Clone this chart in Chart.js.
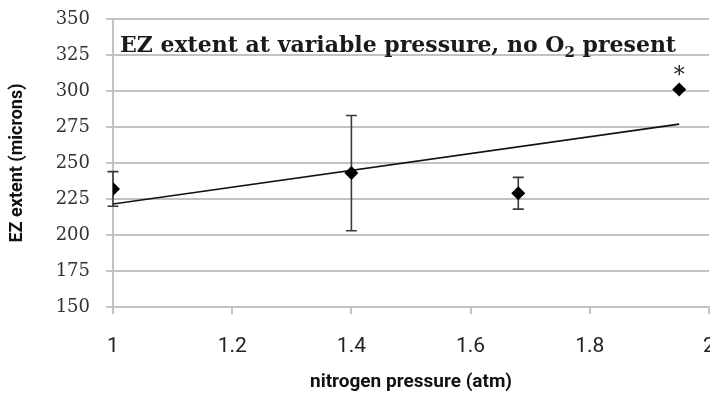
<!DOCTYPE html>
<html>
<head>
<meta charset="utf-8">
<script src="https://cdn.jsdelivr.net/npm/chart.js@4/dist/chart.umd.min.js"></script>
<style>
html,body{margin:0;padding:0;background:#fff;}
#wrap{width:710px;height:394px;position:relative;}
</style>
</head>
<body>
<div id="wrap"><canvas id="c" width="710" height="394"></canvas></div>
<script>
// ---- data ----
const pressures = [1, 1.4, 1.68, 1.95];
const ezExtent = [232, 243, 229, 301];
const ezError = [12, 40, 11, 0];
const trendX = [1, 1.95];
const trendY = [221.5, 277];
const annotatedIndex = 3;
const chartTitleMain = 'EZ extent at variable pressure, no O';
const chartTitleSub = '2';
const chartTitleEnd = ' present';
const xTitle = 'nitrogen pressure (atm)';
const yTitle = 'EZ extent (microns)';

const narrow = "'Liberation Sans Narrow','Arial Narrow','Roboto',sans-serif";
const serif = "'DejaVu Serif','Liberation Serif',serif";

const extras = {
  id: 'extras',
  beforeDatasetsDraw(chart) {
    const {ctx, scales: {x, y}} = chart;
    ctx.save();
    ctx.strokeStyle = '#3a3a3a';
    ctx.lineWidth = 1.6;
    pressures.forEach((p, i) => {
      if (!ezError[i]) return;
      const px = x.getPixelForValue(p);
      const top = y.getPixelForValue(ezExtent[i] + ezError[i]);
      const bot = y.getPixelForValue(ezExtent[i] - ezError[i]);
      ctx.beginPath();
      ctx.moveTo(px, top); ctx.lineTo(px, bot);
      ctx.moveTo(px - 5.5, top); ctx.lineTo(px + 5.5, top);
      ctx.moveTo(px - 5.5, bot); ctx.lineTo(px + 5.5, bot);
      ctx.stroke();
    });
    ctx.restore();
  },
  afterDatasetsDraw(chart) {
    const {ctx, scales: {x, y}} = chart;
    ctx.save();
    // asterisk
    ctx.fillStyle = '#222';
    ctx.font = "22px " + serif;
    ctx.textAlign = 'center';
    ctx.textBaseline = 'alphabetic';
    const ax = x.getPixelForValue(pressures[annotatedIndex]);
    const ay = y.getPixelForValue(ezExtent[annotatedIndex]);
    ctx.fillText('*', ax, ay - 8);
    // title
    const left = chart.chartArea.left + 7;
    const base = 52;
    const size = 22;
    ctx.textAlign = 'left';
    ctx.fillStyle = '#1a1a1a';
    ctx.font = "bold " + size + "px " + serif;
    ctx.fillText(chartTitleMain, left, base);
    let w = ctx.measureText(chartTitleMain).width;
    ctx.font = "bold " + Math.round(size * 0.66) + "px " + serif;
    ctx.fillText(chartTitleSub, left + w, base + 5);
    w += ctx.measureText(chartTitleSub).width;
    ctx.font = "bold " + size + "px " + serif;
    ctx.fillText(chartTitleEnd, left + w, base);
    ctx.restore();
  }
};

new Chart(document.getElementById('c'), {
  type: 'scatter',
  data: {
    datasets: [
      {
        data: pressures.map((p, i) => ({x: p, y: ezExtent[i]})),
        pointStyle: 'rectRot',
        pointRadius: 7,
        pointHoverRadius: 7,
        backgroundColor: '#000',
        borderColor: '#000',
        borderWidth: 0,
        order: 0
      },
      {
        type: 'line',
        data: trendX.map((v, i) => ({x: v, y: trendY[i]})),
        borderColor: '#111',
        borderWidth: 1.6,
        pointRadius: 0,
        fill: false,
        order: 1
      }
    ]
  },
  options: {
    responsive: false,
    animation: false,
    events: [],
    layout: {autoPadding: false, padding: {left: 8, right: 1, top: 19, bottom: 0}},
    plugins: {legend: {display: false}, tooltip: {enabled: false}, title: {display: false}},
    scales: {
      x: {
        type: 'linear', min: 1, max: 2,
        ticks: {stepSize: 0.2, color: '#222', padding: 20, maxRotation: 0,
          font: {family: narrow, size: 21},
          callback: v => String(Math.round(v * 10) / 10)},
        grid: {drawOnChartArea: false, drawTicks: true, tickLength: 7, color: '#c2c2c2', lineWidth: 2},
        border: {display: true, color: '#c2c2c2', width: 2},
        title: {display: true, text: xTitle, color: '#111', padding: {top: 0, bottom: 2},
          font: {family: narrow, size: 19, weight: 'bold', lineHeight: 1}},
        afterFit(s) { s.height = 87; s.paddingLeft = 0; s.paddingRight = 0; }
      },
      y: {
        min: 150, max: 350,
        ticks: {stepSize: 25, color: '#333', padding: 16, font: {family: serif, size: 18}},
        grid: {color: '#c2c2c2', lineWidth: 2, tickLength: 7},
        border: {display: true, color: '#c2c2c2', width: 2},
        title: {display: true, text: yTitle, color: '#111', padding: {top: 0, bottom: 0},
          font: {family: narrow, size: 18, weight: 'bold', lineHeight: 1}},
        afterFit(s) { s.width = 105; s.paddingTop = 0; s.paddingBottom = 0; }
      }
    }
  },
  plugins: [extras]
});
</script>
</body>
</html>
